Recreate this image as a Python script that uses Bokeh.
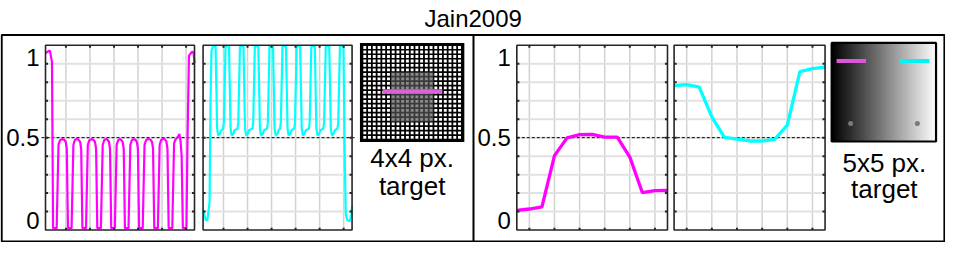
import numpy as np
from bokeh.plotting import figure
from bokeh.models import Range1d
from bokeh.core.properties import value
from bokeh.embed import file_html
from bokeh.resources import INLINE

# ---------------- data ----------------
title_text = "Jain2009"
y_tick_values = [0, 0.5, 1]
y_tick_labels = ["0", "0.5", "1"]
y_grid_values = [0.1, 0.2, 0.3, 0.4, 0.5, 0.6, 0.7, 0.8, 0.9]
reference_level = 0.5

scan_x_range = [1.5, 63.5]
scan_x_grid = [10, 20, 30, 40, 50, 60]
scan_magenta_x = [1.5, 2.4, 3.3, 4.2, 4.65,
                  6.15, 6.9, 7.5, 8.3, 9.2, 9.9, 10.35, 10.85,
                  12.35, 13.1, 13.7, 14.5, 15.2, 15.9, 16.35, 16.85,
                  18.35, 19.1, 19.7, 20.5, 21.4, 22.1, 22.55, 23.05,
                  24.55, 25.3, 25.9, 26.7, 27.2, 27.9, 28.35, 28.85,
                  30.35, 31.1, 31.7, 32.4, 32.9, 33.6, 34.05, 34.55,
                  36.05, 36.8, 37.4, 38.2, 38.8, 39.5, 39.95, 40.45,
                  41.95, 42.7, 43.3, 44.1, 45.1, 45.8, 46.25, 46.75,
                  48.25, 49.0, 49.6, 50.4, 51.1, 51.8, 52.25, 52.75,
                  54.25, 55.0, 55.6, 56.6, 57.2, 57.7, 58.15, 58.65,
                  60.15, 60.6, 61.2, 62.5, 63.1, 63.5]
scan_magenta_y = [0.958, 0.965, 0.972, 0.91, 0.01,
                  0.01, 0.46, 0.485, 0.492, 0.49, 0.478, 0.44, 0.01,
                  0.01, 0.46, 0.487, 0.493, 0.49, 0.477, 0.44, 0.01,
                  0.01, 0.46, 0.485, 0.492, 0.489, 0.478, 0.44, 0.01,
                  0.01, 0.46, 0.486, 0.493, 0.49, 0.478, 0.44, 0.01,
                  0.01, 0.46, 0.485, 0.492, 0.49, 0.477, 0.44, 0.01,
                  0.01, 0.46, 0.486, 0.492, 0.49, 0.478, 0.44, 0.01,
                  0.01, 0.46, 0.485, 0.493, 0.49, 0.478, 0.44, 0.01,
                  0.01, 0.46, 0.487, 0.495, 0.492, 0.48, 0.44, 0.01,
                  0.01, 0.47, 0.49, 0.505, 0.52, 0.48, 0.40, 0.01,
                  0.01, 0.5, 0.944, 0.965, 0.96, 0.902]

scan_cyan_x = [1.5, 2.6, 3.3, 4.2, 4.6, 5.0, 5.6,
               6.7, 7.35, 7.8, 8.5, 9.0, 9.8, 10.15, 10.85,
               12.3, 12.95, 13.4, 14.1, 14.6, 15.8, 16.15, 16.85,
               18.3, 18.95, 19.4, 20.1, 20.6, 22.0, 22.35, 23.05,
               24.5, 25.15, 25.6, 26.3, 26.8, 28.1, 28.45, 29.15,
               30.6, 31.25, 31.7, 32.4, 32.9, 33.5, 33.85, 34.55,
               36.0, 36.65, 37.1, 37.8, 38.3, 39.4, 39.75, 40.45,
               41.9, 42.55, 43.0, 43.7, 44.2, 45.5, 45.85, 46.55,
               48.0, 48.65, 49.1, 49.8, 50.3, 51.5, 51.85, 52.55,
               54.0, 54.65, 55.1, 55.8, 56.3, 57.4, 57.75, 58.45,
               59.9, 60.5, 60.9, 61.5, 62.5, 63.2, 63.5]
scan_cyan_y = [0.11, 0.054, 0.054, 0.15, 0.69, 0.97, 0.995,
               0.995, 0.55, 0.512, 0.52, 0.54, 0.548, 0.58, 0.995,
               0.995, 0.55, 0.512, 0.52, 0.54, 0.548, 0.58, 0.995,
               0.995, 0.55, 0.512, 0.52, 0.54, 0.548, 0.58, 0.995,
               0.995, 0.55, 0.512, 0.52, 0.54, 0.548, 0.58, 0.995,
               0.995, 0.55, 0.512, 0.52, 0.54, 0.548, 0.58, 0.995,
               0.995, 0.55, 0.512, 0.52, 0.54, 0.548, 0.58, 0.995,
               0.995, 0.55, 0.512, 0.52, 0.54, 0.548, 0.58, 0.995,
               0.995, 0.55, 0.512, 0.52, 0.54, 0.548, 0.58, 0.995,
               0.995, 0.55, 0.512, 0.52, 0.54, 0.548, 0.58, 0.995,
               0.995, 0.35, 0.084, 0.054, 0.047, 0.084, 0.13]

profile_x_range = [0.5, 6.5]
profile_x_grid = [1, 2, 3, 4, 5, 6]
profile_x = [0.5, 1.0, 1.5, 2.0, 2.5, 3.0, 3.5, 4.0, 4.5, 5.0, 5.5, 6.0, 6.5]
profile_magenta = [0.106, 0.114, 0.126, 0.403, 0.499, 0.516, 0.518, 0.503, 0.503, 0.395, 0.202, 0.213, 0.215]
profile_cyan = [0.782, 0.787, 0.773, 0.613, 0.501, 0.492, 0.482, 0.482, 0.491, 0.568, 0.857, 0.874, 0.882]

caption_left = ["4x4 px.", "target"]
caption_right = ["5x5 px.", "target"]

# ---------------- styling / layout (reference pixel units) ----------------
MAGENTA = "#ff00ff"
CYAN = "#00ffff"
FONT = value("Liberation Sans")
HGRID = "#e1e1e1"
VGRID = "#d2d2d2"
FRAME = "#262626"

Y_TOP_REF, Y_BOT_REF = -2.4, 256.6
X_LEFT_REF, X_RIGHT_REF = 0.0, 959.6


def Y(v):
    return Y_BOT_REF - v


p = figure(width=945, height=242,
           x_range=Range1d(X_LEFT_REF, X_RIGHT_REF), y_range=Range1d(0, Y_BOT_REF - Y_TOP_REF),
           output_backend="svg", toolbar_location=None, min_border=0,
           x_axis_location=None, y_axis_location=None)
p.grid.visible = False
p.outline_line_color = None
p.background_fill_color = "white"
p.border_fill_color = "white"

BOX_TOP, BOX_BOT = 45.5, 243.3
panels = {
    "p1": (45.7, 197.0),
    "p2": (205.7, 357.0),
    "p3": (524.3, 677.3),
    "p4": (684.0, 837.3),
}


def sub(left, right, top, bottom, xr, yr):
    return p.subplot(x_source=Range1d(*xr), y_source=Range1d(*yr),
                     x_target=Range1d(left, right), y_target=Range1d(Y(bottom), Y(top)))


subs = {}
for key, xr, xg in [("p1", scan_x_range, scan_x_grid), ("p2", scan_x_range, scan_x_grid),
                    ("p3", profile_x_range, profile_x_grid), ("p4", profile_x_range, profile_x_grid)]:
    l, r = panels[key]
    sp = sub(l, r, BOX_TOP, BOX_BOT, xr, (0, 1))
    subs[key] = (sp, xr, xg)
    sp.segment(x0=xg, y0=0, x1=xg, y1=1, line_color=VGRID, line_width=1.5)
    sp.segment(x0=xr[0], y0=y_grid_values, x1=xr[1], y1=y_grid_values, line_color=HGRID, line_width=2)

# dashed reference line spanning each pair of panels
for (l, r) in [(41.7, 360.0), (524.3, 837.3)]:
    row = sub(l, r, BOX_TOP, BOX_BOT, (0, 1), (0, 1))
    row.line(x=[0, 1], y=[reference_level, reference_level], line_color="black",
             line_width=1, line_dash="3 2")

subs["p1"][0].line(scan_magenta_x, scan_magenta_y, line_color=MAGENTA, line_width=2.2)
subs["p2"][0].line(scan_cyan_x, scan_cyan_y, line_color=CYAN, line_width=2.2)
subs["p3"][0].line(profile_x, profile_magenta, line_color=MAGENTA, line_width=3.3)
subs["p4"][0].line(profile_x, profile_cyan, line_color=CYAN, line_width=3.3)

for key in ["p1", "p2", "p3", "p4"]:
    sp, xr, xg = subs[key]
    sp.quad(left=[xr[0]], right=[xr[1]], bottom=[0], top=[1], fill_color=None,
            line_color=FRAME, line_width=1.6)
    tx = (xr[1] - xr[0]) * 0.017
    ty = 0.013
    sp.segment(x0=xr[0], y0=y_grid_values, x1=xr[0] + tx, y1=y_grid_values, line_color=FRAME, line_width=2)
    sp.segment(x0=xr[1], y0=y_grid_values, x1=xr[1] - tx, y1=y_grid_values, line_color=FRAME, line_width=2)
    sp.segment(x0=xg, y0=0, x1=xg, y1=ty, line_color=FRAME, line_width=2)
    sp.segment(x0=xg, y0=1, x1=xg, y1=1 - ty, line_color=FRAME, line_width=2)

# y tick labels on the first panel of each group (end labels pulled inside the axis span)
label_offsets = [-9.3, 0, 12.0]
for key in ["p1", "p3"]:
    sp, xr, xg = subs[key]
    for v, lab, off in zip(y_tick_values, y_tick_labels, label_offsets):
        sp.text(x=[xr[0]], y=[v], text=[lab], text_align="right", text_baseline="middle",
                x_offset=-6, y_offset=off, text_font=FONT, text_font_size="24px", text_color="black")

# ---------------- stimulus images ----------------
def gray_rgba(arr):
    v = np.clip(arr * 255, 0, 255).astype(np.uint32)
    return (255 << 24) | (v << 16) | (v << 8) | v

# 4x4 px target: grid of white squares on black, darker block in the middle
IMG1 = (365.0, 471.0, 43.0, 149.0)   # left, right, top, bottom
cells = 21
pitch = (IMG1[1] - IMG1[0] - 5.0) / cells
sq = pitch * 0.62
cx, cy, cc = [], [], []
for i in range(cells):
    for j in range(cells):
        cx.append(IMG1[0] + 2.5 + pitch * (j + 0.5))
        cy.append(Y(IMG1[2] + 2.5 + pitch * (i + 0.5)))
        cc.append("#8c8c8c" if (6 <= i <= 16 and 6 <= j <= 14) else "#ffffff")
p.quad(left=[IMG1[0]], right=[IMG1[1]], top=[Y(IMG1[2])], bottom=[Y(IMG1[3])],
       fill_color="black", line_color=None)
p.quad(left=[IMG1[0] + 2.5 + pitch * 6], right=[IMG1[0] + 2.5 + pitch * 15],
       top=[Y(IMG1[2] + 2.5 + pitch * 6)], bottom=[Y(IMG1[2] + 2.5 + pitch * 17)],
       fill_color="#3a3a3a", line_color=None)
p.rect(x=cx, y=cy, width=sq, height=sq, fill_color=cc, line_color=None)
p.quad(left=[388], right=[448.7], top=[Y(92.7)], bottom=[Y(97.3)], fill_color="#da62da", line_color=None)

# 5x5 px target: horizontal luminance ramp
grad = np.tile(np.linspace(0.0, 1.0, 256), (2, 1))
p.image_rgba(image=[gray_rgba(grad)], x=844, y=Y(148.5), dw=106, dh=105.5)
p.quad(left=[844], right=[950], top=[Y(43)], bottom=[Y(148.5)], fill_color=None,
       line_color="black", line_width=2.2)
p.quad(left=[849, 912.7], right=[879, 943.3], top=[Y(60.2)] * 2, bottom=[Y(64.6)] * 2,
       fill_color=["#dc55dc", "#00f4f4"], line_color=None)
p.scatter(x=[863.3, 931], y=[Y(129.3)] * 2, size=5, marker="circle", fill_color="#7a7a7a", line_color=None)

# ---------------- captions, title, frames ----------------
p.text(x=[418, 418], y=[Y(166.5), Y(196)], text=caption_left, text_align="center",
       text_baseline="middle", text_font=FONT, text_font_size="26px", text_color="black")
p.text(x=[897.5, 897.5], y=[Y(171), Y(199)], text=caption_right, text_align="center",
       text_baseline="middle", text_font=FONT, text_font_size="26px", text_color="black")
p.text(x=[480], y=[Y(17.0)], text=[title_text], text_align="center", text_baseline="alphabetic",
       text_font=FONT, text_font_size="24px", text_color="black")

p.quad(left=[1.2], right=[958.5], top=[Y(34.5)], bottom=[Y(255.5)], fill_color=None,
       line_color="black", line_width=2)
p.segment(x0=[480.3], y0=[Y(34.5)], x1=[480.3], y1=[Y(255.5)], line_color="black", line_width=2)

open("out.html", "w").write(file_html(p, INLINE))
